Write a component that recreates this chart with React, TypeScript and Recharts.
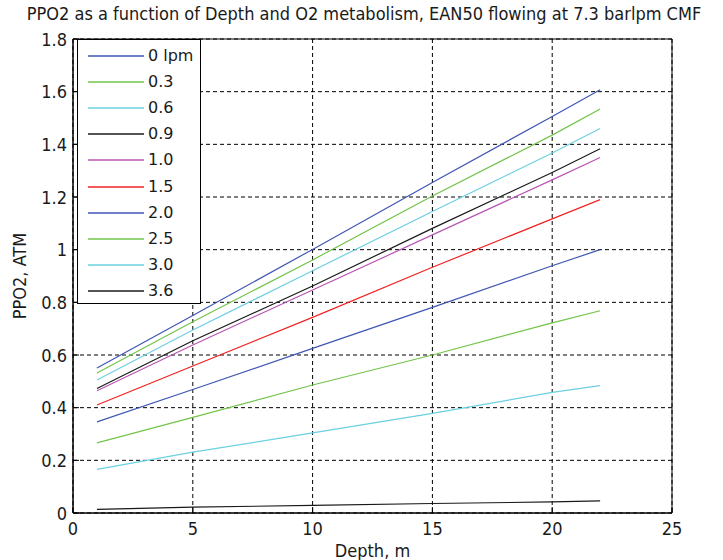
import React from 'react';
import { LineChart, Line, XAxis, YAxis, CartesianGrid, Legend, ReferenceArea } from 'recharts';

const title = 'PPO2 as a function of Depth and O2 metabolism, EAN50 flowing at 7.3 barlpm CMF';
const xLabel = 'Depth, m';
const yLabel = 'PPO2, ATM';

const depths = [1, 5, 10, 15, 20, 22];
const seriesNames = ['0 lpm', '0.3', '0.6', '0.9', '1.0', '1.5', '2.0', '2.5', '3.0', '3.6'];
const seriesColors = ['#3f56b3', '#72c44a', '#6bd0e2', '#1a1a1a', '#b955b4', '#f22222', '#3f56b3', '#72c44a', '#6bd0e2', '#1a1a1a'];

const s0 = [0.551, 0.75, 1.001, 1.255, 1.506, 1.607];
const s03 = [0.532, 0.726, 0.961, 1.204, 1.435, 1.534];
const s06 = [0.505, 0.695, 0.92, 1.145, 1.367, 1.46];
const s09 = [0.473, 0.654, 0.862, 1.081, 1.293, 1.383];
const s10 = [0.464, 0.638, 0.847, 1.056, 1.265, 1.35];
const s15 = [0.41, 0.558, 0.743, 0.933, 1.117, 1.19];
const s20 = [0.346, 0.469, 0.625, 0.781, 0.939, 1.0];
const s25 = [0.266, 0.363, 0.486, 0.6, 0.722, 0.768];
const s30 = [0.166, 0.231, 0.304, 0.378, 0.458, 0.484];
const s36 = [0.014, 0.022, 0.029, 0.036, 0.042, 0.046];
const seriesValues = [s0, s03, s06, s09, s10, s15, s20, s25, s30, s36];

const xTicks = [0, 5, 10, 15, 20, 25];
const yTicks = [0, 0.2, 0.4, 0.6, 0.8, 1, 1.2, 1.4, 1.6, 1.8];

const data = depths.map((d, i) => {
  const row: Record<string, number> = { depth: d };
  seriesValues.forEach((vals, k) => {
    row['s' + k] = vals[i];
  });
  return row;
});

const FONT = '"DejaVu Sans Condensed", "DejaVu Sans", "Liberation Sans", Arial, sans-serif';
const LEG_FONT = '"DejaVu Sans", "Liberation Sans", Arial, sans-serif';
const TXT = '#1a1a1a';
const TICK = 6;

const fmtY = (v: number) => String(Math.round(v * 10) / 10);

const BottomTick = (props: any) => {
  const { x, y, payload } = props;
  return (
    <g>
      <line x1={x} y1={y} x2={x} y2={y - TICK} stroke="#000" />
      <text x={x} y={y + 22} textAnchor="middle" fontFamily={FONT} fontSize={18} fill={TXT}>
        {payload.value}
      </text>
    </g>
  );
};

const TopTick = (props: any) => {
  const { x, y } = props;
  return <line x1={x} y1={y} x2={x} y2={y + TICK} stroke="#000" />;
};

const LeftTick = (props: any) => {
  const { x, y, payload } = props;
  return (
    <g>
      <line x1={x} y1={y} x2={x + TICK} y2={y} stroke="#000" />
      <text x={x - 6} y={y + 6.5} textAnchor="end" fontFamily={FONT} fontSize={18} fill={TXT}>
        {fmtY(payload.value)}
      </text>
    </g>
  );
};

const RightTick = (props: any) => {
  const { x, y } = props;
  return <line x1={x} y1={y} x2={x - TICK} y2={y} stroke="#000" />;
};

const LegendBox = (props: any) => {
  const payload = props.payload || [];
  return (
    <div
      style={{
        position: 'relative',
        width: 124,
        height: 265,
        border: '1px solid #000',
        boxSizing: 'border-box',
        background: '#fff',
      }}
    >
      {payload.map((p: any, i: number) => (
        <div key={i} style={{ position: 'absolute', left: 0, top: 16 + i * 26.1 - 10, height: 20, width: 122 }}>
          <svg width={60} height={20} style={{ position: 'absolute', left: 9, top: 0 }}>
            <line x1={1} y1={10} x2={57} y2={10} stroke={p.color} strokeWidth={1.3} />
          </svg>
          <span
            style={{
              position: 'absolute',
              left: 70,
              top: 0,
              lineHeight: '20px',
              fontFamily: LEG_FONT,
              fontSize: 16,
              color: TXT,
              whiteSpace: 'nowrap',
            }}
          >
            {p.value}
          </span>
        </div>
      ))}
    </div>
  );
};

export default function App() {
  return (
    <div style={{ position: 'absolute', left: 0, top: 0, width: 723, height: 560, background: '#fff' }}>
      <div
        style={{
          position: 'absolute',
          left: 0,
          top: 3,
          width: 728,
          textAlign: 'center',
          fontFamily: FONT,
          fontSize: 18,
          color: TXT,
          whiteSpace: 'nowrap',
        }}
      >
        {title}
      </div>
      <div style={{ position: 'absolute', left: 0, top: 0 }}>
        <LineChart width={723} height={560} data={data} margin={{ top: 39, right: 51, bottom: 0, left: 0 }}>
          <CartesianGrid stroke="#000" strokeDasharray="4 3" horizontalValues={yTicks} verticalValues={xTicks} />
          <XAxis
            xAxisId={0}
            dataKey="depth"
            type="number"
            domain={[0, 25]}
            ticks={xTicks}
            height={47}
            tickSize={0}
            tickMargin={0}
            tick={<BottomTick />}
            axisLine={{ stroke: '#000' }}
            label={{ value: xLabel, position: 'insideBottom', offset: 3, fontFamily: FONT, fontSize: 18, fill: TXT }}
          />
          <XAxis
            xAxisId="top"
            orientation="top"
            dataKey="depth"
            type="number"
            domain={[0, 25]}
            ticks={xTicks}
            height={0}
            tickSize={0}
            tickMargin={0}
            tick={<TopTick />}
            axisLine={{ stroke: '#000' }}
          />
          <YAxis
            yAxisId={0}
            type="number"
            domain={[0, 1.8]}
            ticks={yTicks}
            width={73}
            tickSize={0}
            tickMargin={0}
            tick={<LeftTick />}
            axisLine={{ stroke: '#000' }}
            label={{ value: yLabel, angle: -90, position: 'insideLeft', offset: 20, fontFamily: FONT, fontSize: 18, fill: TXT, style: { textAnchor: 'middle' } }}
          />
          <YAxis
            yAxisId="right"
            orientation="right"
            type="number"
            domain={[0, 1.8]}
            ticks={yTicks}
            width={0}
            tickSize={0}
            tickMargin={0}
            tick={<RightTick />}
            axisLine={{ stroke: '#000' }}
          />
          <ReferenceArea x1={0} x2={25} y1={0} y2={1.8} fill="none" stroke="#000" strokeWidth={1} ifOverflow="visible" />
          {seriesNames.map((name, k) => (
            <Line
              key={name}
              type="linear"
              dataKey={'s' + k}
              name={name}
              stroke={seriesColors[k]}
              strokeWidth={1.2}
              dot={false}
              activeDot={false}
              isAnimationActive={false}
            />
          ))}
          <Legend
            layout="vertical"
            align="center"
            verticalAlign="middle"
            content={<LegendBox />}
            wrapperStyle={{ left: 77, top: 39, width: 124, height: 265 }}
          />
        </LineChart>
      </div>
    </div>
  );
}
